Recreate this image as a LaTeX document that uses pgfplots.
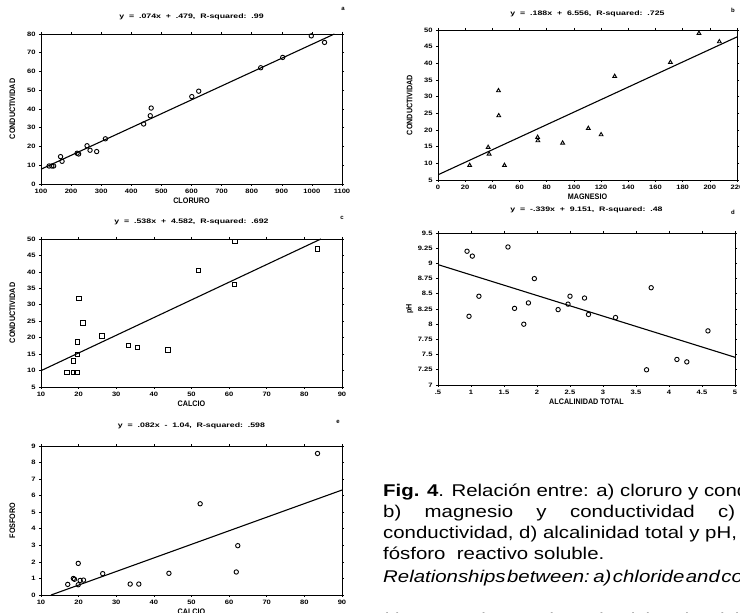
\documentclass[border=0pt]{standalone}
\usepackage{fontspec}
\setmainfont{Liberation Sans}
\newfontfamily\widefont[FakeStretch=1.2]{Liberation Sans}
\newfontfamily\titlefont[FakeStretch=1.35]{Liberation Sans}
\newfontfamily\labelfont[FakeStretch=0.9]{Liberation Sans}
\usepackage{pgfplots}
\pgfplotsset{compat=1.18}

\pgfplotsset{
  scan/.style={
    scale only axis, anchor=south west,
    axis line style={line width=0.8pt},
    tick style={line width=0.6pt, black},
    tick align=outside, major tick length=2pt,
    tick pos=both, xticklabel pos=lower, yticklabel pos=left,
    ticklabel style={font=\widefont\bfseries\fontsize{6.3}{7}\selectfont},
    every axis y label/.style={at={(axis description cs:-0.095,0.5)},rotate=90,anchor=center,
      font=\labelfont\bfseries\fontsize{8}{9}\selectfont},
    every axis x label/.style={at={(axis description cs:0.5,0)},anchor=center,yshift=-17pt,
      font=\labelfont\bfseries\fontsize{8}{9}\selectfont},
    title style={font=\titlefont\bfseries\fontsize{6.5}{7}\selectfont,
      at={(axis description cs:0.5,1)},anchor=center},
    /pgf/number format/assume math mode=true,
    /pgf/number format/1000 sep={},
    every axis plot/.append style={black},
  },
  pts/.style={only marks, mark size=2.2pt, mark options={line width=0.9pt}},
  fit/.style={no marks, line width=1.1pt},
}

\begin{document}
\begin{tikzpicture}
\useasboundingbox (0pt,0pt) rectangle (740pt,613pt);
\clip (0pt,0pt) rectangle (740pt,613pt);

% a) cloruro - conductividad
\begin{axis}[scan, at={(41pt,429pt)}, width=301pt, height=150pt,
  xmin=100, xmax=1100, ymin=0, ymax=80,
  xtick={100,200,...,1100}, ytick={0,10,...,80},
  title={y\ \ =\ \ .074x\ \ +\ \ .479,\ \ R-squared:\ \ .99}, title style={yshift=11pt},
  xlabel={CLORURO}, ylabel={CONDUCTIVIDAD}]
\addplot[pts, mark=o] coordinates {
 (127,9.6)(136,9.6)(142,9.6)(165,14.6)(170,12.1)(220,16.4)(225,16.0)(253,20.4)
 (263,18.0)(285,17.3)(314,24.1)(441,32.0)(463,36.4)(466,40.5)(601,46.6)(624,49.5)
 (830,62.0)(903,67.5)(998,79.0)(1042,75.5)};
\addplot[fit] coordinates {(100,7.88)(1074.6,80)};
\end{axis}

% b) magnesio - conductividad
\begin{axis}[scan, at={(438pt,433pt)}, width=299pt, height=150pt,
  xmin=0, xmax=220, ymin=5, ymax=50,
  xtick={0,20,...,220}, ytick={5,10,...,50},
  title={y\ \ =\ \ .188x\ \ +\ \ 6.556,\ \ R-squared:\ \ .725}, title style={yshift=10pt},
  xlabel={MAGNESIO}, ylabel={CONDUCTIVIDAD}]
\addplot[pts, mark=triangle] coordinates {
 (23.3,9.4)(36.9,14.8)(37.6,12.8)(44.5,31.8)(44.7,24.3)(48.9,9.4)(73.3,17.8)
 (73.5,16.8)(91.7,16.1)(110.6,20.5)(120,18.6)(130,36.1)(171,40.3)(192,49.0)(207,46.5)};
\addplot[fit] coordinates {(0,6.556)(220,47.92)};
\end{axis}

% c) calcio - conductividad
\begin{axis}[scan, at={(41pt,226pt)}, width=301pt, height=148pt,
  xmin=10, xmax=90, ymin=5, ymax=50,
  xtick={10,20,...,90}, ytick={5,10,...,50},
  title={y\ \ =\ \ .538x\ \ +\ \ 4.582,\ \ R-squared:\ \ .692}, title style={yshift=11pt},
  xlabel={CALCIO}, ylabel={CONDUCTIVIDAD}]
\addplot[pts, mark=square] coordinates {
 (16.9,9.5)(18.7,9.5)(19.6,9.5)(18.7,12.9)(19.7,14.9)(19.7,18.7)(20.1,31.9)(21.2,24.5)
 (26.2,20.5)(33.3,17.7)(35.7,17.0)(43.7,16.3)(51.9,40.4)(61.6,49.2)(61.4,36.2)(83.5,47.0)};
\addplot[fit] coordinates {(10,9.96)(84.4,50)};
\end{axis}

% d) alcalinidad total - pH
\begin{axis}[scan, at={(438pt,228pt)}, width=297pt, height=152pt,
  xmin=0.5, xmax=5, ymin=7, ymax=9.5,
  xtick={0.5,1,...,5}, xticklabels={.5,1,1.5,2,2.5,3,3.5,4,4.5,5},
  ytick={7,7.25,...,9.5}, yticklabels={7,7.25,7.5,7.75,8,8.25,8.5,8.75,9,9.25,9.5},
  title={y\ \ =\ \ -.339x\ \ +\ \ 9.151,\ \ R-squared:\ \ .48}, title style={yshift=17pt},
  xlabel={ALCALINIDAD TOTAL}, ylabel={pH}]
\addplot[pts, mark=o] coordinates {
 (0.94,9.20)(1.02,9.12)(0.97,8.13)(1.12,8.46)(1.56,9.27)(1.66,8.26)(1.80,8.00)
 (1.87,8.35)(1.96,8.75)(2.32,8.24)(2.47,8.33)(2.50,8.46)(2.72,8.43)(2.78,8.16)
 (3.19,8.11)(3.66,7.25)(3.73,8.60)(4.12,7.42)(4.27,7.38)(4.59,7.89)};
\addplot[fit] coordinates {(0.5,8.98)(5,7.456)};
\end{axis}

% e) calcio - fosforo
\begin{axis}[scan, at={(41pt,18pt)}, width=301pt, height=149pt,
  xmin=10, xmax=90, ymin=0, ymax=9,
  xtick={10,20,...,90}, ytick={0,1,...,9},
  title={y\ \ =\ \ .082x\ \ -\ \ 1.04,\ \ R-squared:\ \ .598}, title style={yshift=14pt},
  xlabel={CALCIO}, ylabel={FOSFORO}]
\addplot[pts, mark=o] coordinates {
 (17.1,0.64)(18.6,1.0)(18.9,0.95)(19.9,1.91)(19.9,0.62)(20.4,0.88)(21.3,0.9)
 (26.4,1.29)(33.7,0.66)(36.0,0.66)(44.0,1.31)(52.3,5.51)(61.9,1.39)(62.3,2.98)(83.5,8.55)};
\addplot[fit] coordinates {(12.68,0)(90,6.34)};
\end{axis}

% panel letters
\begin{scope}[every node/.style={font=\bfseries\fontsize{6}{7}\selectfont}]
\node at (343pt,604pt) {a};
\node at (733pt,603pt) {b};
\node at (342pt,395pt) {c};
\node at (733pt,401pt) {d};
\node at (338pt,191pt) {e};
\end{scope}

% caption
\begin{scope}[every node/.style={anchor=base west, inner sep=0pt,
    font=\widefont\fontsize{17}{20}\selectfont}]
\node at (383pt,116pt) {\textbf{Fig. 4}. Relación entre: a) cloruro y conductividad,};
\node at (383pt,95pt) {\makebox[352pt][s]{b)\hfill magnesio\hfill y\hfill conductividad\hfill c)}};
\node at (383pt,74pt) {conductividad, d) alcalinidad total y pH, e) calcio y};
\node at (383pt,53pt) {fósforo\ \ reactivo soluble.};
\node at (383pt,30pt) {\itshape\spaceskip=1.5pt Relationships between: a) chloride and conductivity,};
\node at (383pt,-13pt) {\itshape b) magnesium and conductivity, c) calcium and};
\end{scope}
\end{tikzpicture}
\end{document}
